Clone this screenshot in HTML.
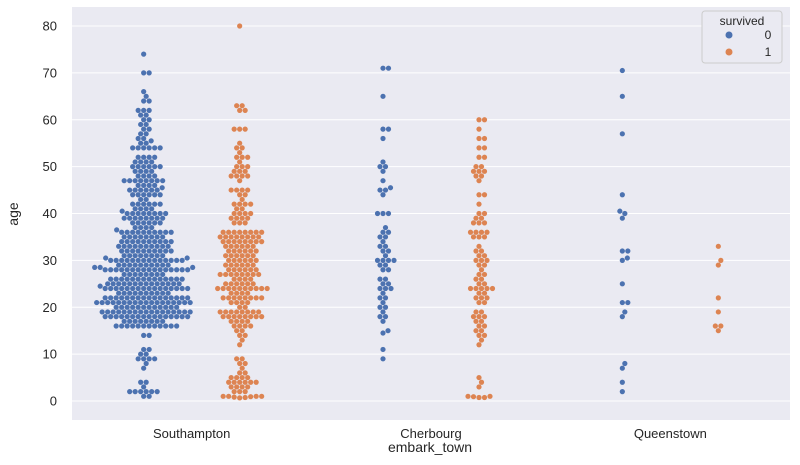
<!DOCTYPE html>
<html><head><meta charset="utf-8"><style>
body{margin:0;background:#fff;}
svg text{font-family:"Liberation Sans",sans-serif;fill:#262626;}
</style></head><body>
<svg id="chart" width="800" height="460" xmlns="http://www.w3.org/2000/svg">
<rect x="72" y="7" width="718" height="413" fill="#eaeaf2"/>
<g id="grid"></g><g id="marks"></g><g id="ticks"></g>
<text x="18" y="214" font-size="14" transform="rotate(-90 18 214)" text-anchor="middle">age</text>
<text x="430" y="452" font-size="14" text-anchor="middle">embark_town</text>
<g>
<rect x="702" y="11" width="80" height="52" rx="3" fill="#eaeaf2" stroke="#cccccc"/>
<text x="742" y="25" font-size="12" text-anchor="middle">survived</text>
<circle cx="729" cy="35" r="3.5" fill="#4c72b0"/>
<text x="768" y="39" font-size="12" text-anchor="middle">0</text>
<circle cx="729" cy="52" r="3.5" fill="#dd8452"/>
<text x="768" y="56" font-size="12" text-anchor="middle">1</text>
</g>
</svg>
<script>
const categories=["Southampton","Cherbourg","Queenstown"];
const hues=["0","1"];
const yTicks=[0,10,20,30,40,50,60,70,80];
// age:count pairs per group
const s0Ages=[1,2,3,4,7,8,9,10,11,14,16,17,18,19,20,21,22,23,24,24.5,25,26,27,28,28.5,29,30,30.5,31,32,33,34,35,36,36.5,37,38,39,40,40.5,41,42,43,44,45,45.5,46,47,48,49,50,51,52,54,55,55.5,56,57,58,59,60,61,62,64,65,66,70,74];
const s0Counts=[2,6,1,2,1,1,4,2,2,2,12,8,16,17,12,18,16,10,16,1,14,14,8,16,3,10,14,2,8,10,10,10,8,10,1,4,6,8,8,1,4,6,2,6,6,1,4,8,4,4,6,4,4,6,2,1,2,2,2,2,2,2,3,2,1,1,2,1];
const s1Ages=[0.67,0.75,0.83,0.92,1,2,3,4,5,6,7,8,9,12,13,14,15,16,17,18,19,20,21,22,23,24,25,26,27,28,29,30,31,32,33,34,35,36,38,39,40,41,42,43,44,45,47,48,49,50,51,52,53,54,55,58,62,63,80];
const s1Counts=[1,1,1,1,4,3,4,6,4,2,1,2,2,1,1,2,2,4,4,8,8,2,4,8,4,10,6,4,8,6,6,6,6,6,6,8,8,8,3,4,4,2,4,1,2,4,1,4,3,3,1,3,1,2,1,3,2,2,1];
const c0Ages=[9,11,14.5,15,17,18,19,20,21,22,23,24,25,26,28,29,30,31,32,33,34,35,36,37,40,44,45,45.5,47,49,50,51,56,58,65,71];
const c0Counts=[1,1,1,1,1,2,1,2,1,2,1,3,2,2,2,2,4,1,2,2,1,2,2,1,3,1,2,1,1,1,2,1,1,2,1,2];
const c1Ages=[0.75,0.92,1,3,4,5,12,13,14,15,16,17,18,19,21,22,23,24,25,26,27,28,29,30,31,32,33,35,36,38,39,40,42,44,47,48,49,50,52,54,56,58,60];
const c1Counts=[2,1,2,1,1,1,1,1,2,2,2,2,3,2,2,3,2,5,2,2,2,1,2,3,2,2,1,3,4,3,2,2,1,2,1,2,3,2,2,2,2,1,2];
const q0Ages=[2,4,7,8,18,19,21,25,30,30.5,32,39,40,40.5,44,57,65,70.5];
const q0Counts=[1,1,1,1,1,1,2,1,1,1,2,1,1,1,1,1,1,1];
const q1Ages=[15,16,19,22,29,30,33];
const q1Counts=[1,2,1,1,1,1,1];
const groups=[[s0Ages,s0Counts],[s1Ages,s1Counts],[c0Ages,c0Counts],[c1Ages,c1Counts],[q0Ages,q0Counts],[q1Ages,q1Counts]];
const colors=["#4c72b0","#dd8452"];
const NS="http://www.w3.org/2000/svg";
function yScale(v){return 401-v*(375/80);}
function catX(ci){return 72+718*(ci+0.5)/3;}
function xScale(ci,hi){return catX(ci)-48+hi*96;}
const grid=document.getElementById('grid'),ticks=document.getElementById('ticks'),marks=document.getElementById('marks');
yTicks.forEach(t=>{
 const l=document.createElementNS(NS,'line');
 l.setAttribute('x1',72);l.setAttribute('x2',790);l.setAttribute('y1',yScale(t));l.setAttribute('y2',yScale(t));
 l.setAttribute('stroke','#fff');l.setAttribute('stroke-width','1');
 
 
 grid.appendChild(l);
 const tx=document.createElementNS(NS,'text');
 tx.setAttribute('x',57);tx.setAttribute('y',yScale(t)+4.5);tx.setAttribute('font-size','13');tx.setAttribute('text-anchor','end');
 tx.textContent=t;
 
 
 ticks.appendChild(tx);
});
categories.forEach((c,ci)=>{
 const tx=document.createElementNS(NS,'text');
 tx.setAttribute('x',catX(ci));tx.setAttribute('y',438);tx.setAttribute('font-size','13');tx.setAttribute('text-anchor','middle');
 tx.textContent=c;
 
 
 ticks.appendChild(tx);
});
const D=5.3,R=2.6;
groups.forEach((g,gi)=>{
 const ci=Math.floor(gi/2),hi=gi%2,cx=xScale(ci,hi);
 let vals=[];
 g[0].forEach((a,i)=>{for(let k=0;k<g[1][i];k++)vals.push(a);});
 vals.sort((a,b)=>a-b);
 const placed=[];
 vals.forEach(v=>{
  const y=yScale(v);
  let off=0,found=false;
  for(let s=0;s<400&&!found;s++){
   const cands=s===0?[0]:[s*0.5,-s*0.5];
   for(const o of cands){
    let ok=true;
    for(const p of placed){const dy=p[1]-y,dx=p[0]-o;if(Math.abs(dy)<D&&dx*dx+dy*dy<D*D){ok=false;break;}}
    if(ok){off=o;found=true;break;}
   }
  }
  placed.push([off,y]);
  const c=document.createElementNS(NS,'circle');
  c.setAttribute('cx',cx+off);c.setAttribute('cy',y);c.setAttribute('r',R);c.setAttribute('fill',colors[hi]);
  
  
  marks.appendChild(c);
 });
});
</script>
</body></html>
